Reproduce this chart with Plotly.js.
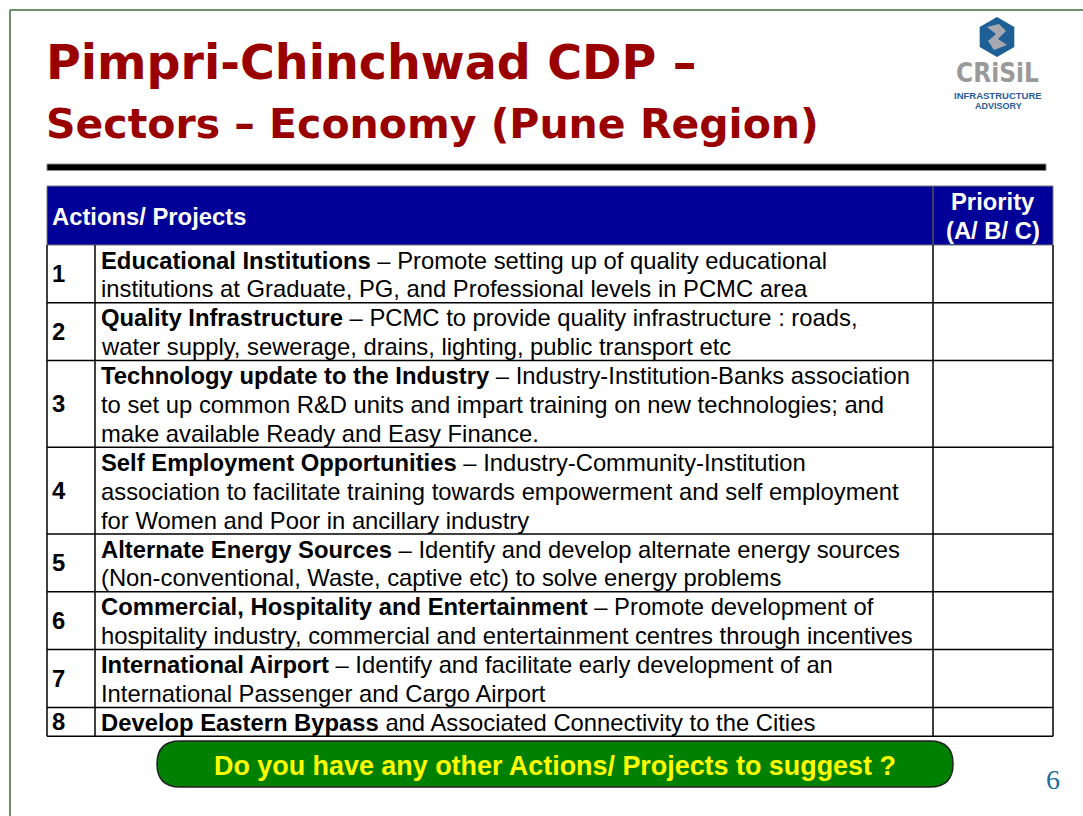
<!DOCTYPE html>
<html>
<head>
<meta charset="utf-8">
<script src="https://cdn.plot.ly/plotly-3.0.1.min.js"></script>
<style>html,body{margin:0;padding:0;background:#fff;}#chart{width:1083px;height:816px;}</style>
</head>
<body>
<div id="chart"></div>
<script>
// ---- content ----
const titleLine1 = "Pimpri-Chinchwad CDP –";
const titleLine2 = "Sectors – Economy (Pune Region)";
const headerAction = "Actions/ Projects";
const headerPriority = ["Priority", "(A/ B/ C)"];
const rowNumbers = ["1", "2", "3", "4", "5", "6", "7", "8"];
const rowLines = [
  ["<b>Educational Institutions</b> – Promote setting up of quality educational",
   "institutions at Graduate, PG, and Professional levels in PCMC area"],
  ["<b>Quality Infrastructure</b> – PCMC to provide quality infrastructure : roads,",
   "water supply, sewerage, drains, lighting, public transport etc"],
  ["<b>Technology update to the Industry</b> – Industry-Institution-Banks association",
   "to set up common R&D units and impart training on new technologies; and",
   "make available Ready and Easy Finance."],
  ["<b>Self Employment Opportunities</b> – Industry-Community-Institution",
   "association to facilitate training towards empowerment and self employment",
   "for Women and Poor in ancillary industry"],
  ["<b>Alternate Energy Sources</b> – Identify and develop alternate energy sources",
   "(Non-conventional, Waste, captive etc) to solve energy problems"],
  ["<b>Commercial, Hospitality and Entertainment</b> – Promote development of",
   "hospitality industry, commercial and entertainment centres through incentives"],
  ["<b>International Airport</b> – Identify and facilitate early development of an",
   "International Passenger and Cargo Airport"],
  ["<b>Develop Eastern Bypass</b> and Associated Connectivity to the Cities"]
];
const priorities = ["", "", "", "", "", "", "", ""];
const buttonText = "Do you have any other Actions/ Projects to suggest ?";
const pageNumber = "6";
const logoWord = "CRiSiL";
const logoSub = ["INFRASTRUCTURE", "ADVISORY"];

// ---- layout geometry ----
const W = 1083, H = 816;
const tblL = 47, tblNum = 95, tblPri = 933, tblR = 1053;
const hdrTop = 186, hdrBot = 245;
const linePitch = 28.9;
const bodyFont = "Liberation Sans, Arial, sans-serif";
const bodySize = 23.8;

const shapes = [];
const ann = [];

// slide frame
shapes.push({type:'line', x0:10, x1:W+5, y0:10, y1:10, line:{color:'#3d6b3d', width:1.5}});
shapes.push({type:'line', x0:10, x1:10, y0:10, y1:H+5, line:{color:'#3d6b3d', width:1.5}});

// title
ann.push({x:44, y:62, text:'<b>'+titleLine1+'</b>', xanchor:'left', yanchor:'middle', showarrow:false,
  font:{family:'DejaVu Sans, sans-serif', size:47.5, color:'#990000'}});
ann.push({x:44, y:124, text:'<b>'+titleLine2+'</b>', xanchor:'left', yanchor:'middle', showarrow:false,
  font:{family:'DejaVu Sans, sans-serif', size:41, color:'#990000'}});

// separator bar
shapes.push({type:'rect', x0:47, x1:1046, y0:164, y1:170.5, fillcolor:'#000', line:{color:'#888', width:1}});

// header
shapes.push({type:'rect', x0:tblL, x1:tblR, y0:hdrTop, y1:hdrBot, fillcolor:'#000099', line:{color:'#777', width:1}});
shapes.push({type:'line', x0:tblPri, x1:tblPri, y0:hdrTop, y1:hdrBot, line:{color:'#555', width:1.5}});
ann.push({x:50, y:216, text:'<b>'+headerAction+'</b>', xanchor:'left', yanchor:'middle', showarrow:false,
  font:{family:bodyFont, size:bodySize, color:'#fff'}});
headerPriority.forEach((t,i)=>{
  ann.push({x:(tblPri+tblR)/2, y:201+i*29, text:'<b>'+t+'</b>', xanchor:'center', yanchor:'middle', showarrow:false,
    font:{family:bodyFont, size:bodySize, color:'#fff'}});
});

// body rows
let y = hdrBot;
rowLines.forEach((lines, r)=>{
  const top = y, bot = y + lines.length*linePitch;
  shapes.push({type:'line', x0:tblL, x1:tblR, y0:bot, y1:bot, line:{color:'#000', width:1.5}});
  ann.push({x:50, y:(top+bot)/2, text:'<b>'+rowNumbers[r]+'</b>', xanchor:'left', yanchor:'middle', showarrow:false,
    font:{family:bodyFont, size:bodySize, color:'#000'}});
  lines.forEach((t,i)=>{
    ann.push({x:99, y:top+15+i*linePitch, text:t, xanchor:'left', yanchor:'middle', showarrow:false,
      font:{family:bodyFont, size:bodySize, color:'#000'}});
  });
  if (priorities[r]) ann.push({x:(tblPri+tblR)/2, y:(top+bot)/2, text:priorities[r], showarrow:false,
      font:{family:bodyFont, size:bodySize, color:'#000'}});
  y = bot;
});
const tblBot = y;
[tblL, tblNum, tblPri, tblR].forEach(x=>{
  shapes.push({type:'line', x0:x, x1:x, y0:hdrBot, y1:tblBot, line:{color:'#000', width:1.5}});
});

// button
(function(){
  const x0=157, x1=953, y0=741, y1=787, r=23;
  const p = `M ${x0+r},${y0} L ${x1-r},${y0} Q ${x1},${y0} ${x1},${y0+r} Q ${x1},${y1} ${x1-r},${y1} L ${x0+r},${y1} Q ${x0},${y1} ${x0},${y1-r} Q ${x0},${y0} ${x0+r},${y0} Z`;
  shapes.push({type:'path', path:p, fillcolor:'#008000', line:{color:'#222', width:1.5}});
  ann.push({x:(x0+x1)/2, y:766, text:'<b>'+buttonText+'</b>', xanchor:'center', yanchor:'middle', showarrow:false,
    font:{family:'Liberation Sans, Arial, sans-serif', size:26.9, color:'#ffff00'}});
})();

// page number
ann.push({x:1053, y:779, text:pageNumber, xanchor:'center', yanchor:'middle', showarrow:false,
  font:{family:'Liberation Serif, Times New Roman, serif', size:28, color:'#1f6e9c'}});

// logo
(function(){
  const cx=997, cy=37;
  const hex = [];
  for (let k=0;k<6;k++){ const a=Math.PI/6+k*Math.PI/3; hex.push([cx+20*Math.cos(a), cy+20*Math.sin(a)]); }
  shapes.push({type:'path', path:'M '+hex.map(p=>p.join(',')).join(' L ')+' Z', fillcolor:'#1e5f96', line:{width:0}});
  shapes.push({type:'path', path:`M ${cx-10},${cy-10} L ${cx+2},${cy-13} L ${cx+9},${cy-6} L ${cx+1},${cy+2} L ${cx+10},${cy+8} L ${cx-3},${cy+13} L ${cx-9},${cy+4} L ${cx-1},${cy-3} Z`,
    fillcolor:'#a8a8b0', line:{width:0}});
  ann.push({x:cx, y:73, text:'<b>'+logoWord+'</b>', xanchor:'center', yanchor:'middle', showarrow:false, borderpad:0,
    font:{family:'DejaVu Sans Condensed, DejaVu Sans, sans-serif', size:26, color:'#9a9a9a'}});
  ann.push({x:cx+1, y:95.5, text:'<b>'+logoSub[0]+'</b>', xanchor:'center', yanchor:'middle', showarrow:false, borderpad:0,
    font:{family:'Liberation Sans, sans-serif', size:9.5, color:'#2a5d9a'}});
  ann.push({x:cx+1, y:106, text:'<b>'+logoSub[1]+'</b>', xanchor:'center', yanchor:'middle', showarrow:false, borderpad:0,
    font:{family:'Liberation Sans, sans-serif', size:9, color:'#2a5d9a'}});
})();

const layout = {
  width:W, height:H, margin:{l:0,r:0,t:0,b:0},
  paper_bgcolor:'#fff', plot_bgcolor:'#fff', showlegend:false,
  xaxis:{range:[0,W], visible:false, fixedrange:true},
  yaxis:{range:[H,0], visible:false, fixedrange:true},
  shapes:shapes, annotations:ann
};
Plotly.newPlot('chart', [{x:[], y:[], type:'scatter', mode:'markers', hoverinfo:'skip'}], layout, {staticPlot:true, displayModeBar:false});
</script>
</body>
</html>
